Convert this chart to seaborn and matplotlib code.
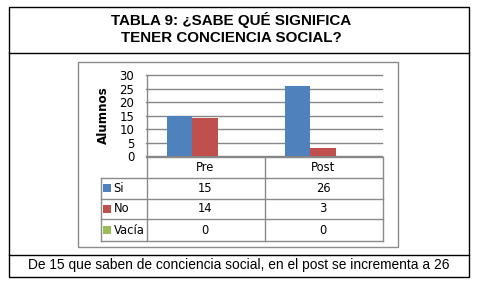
import matplotlib
matplotlib.use("Agg")
import matplotlib.pyplot as plt
from matplotlib.patches import Rectangle
import seaborn as sns
import pandas as pd

# ---- data ----
categories = ["Pre", "Post"]
series = ["Si", "No", "Vacía"]
si_values = [15, 26]
no_values = [14, 3]
vacia_values = [0, 0]
yticks = [0, 5, 10, 15, 20, 25, 30]
title_lines = ["TABLA 9: ¿SABE QUÉ SIGNIFICA", "TENER CONCIENCIA SOCIAL?"]
ylabel = "Alumnos"
footer = "De 15 que saben de conciencia social, en el post se incrementa a 26"

colors = ["#4F81BD", "#C0504D", "#9BBB59"]

values_by_series = [si_values, no_values, vacia_values]
df = pd.DataFrame({
    "cat": [c for s in series for c in categories],
    "serie": [s for s in series for _ in categories],
    "val": [v for vals in values_by_series for v in vals],
})

W, H = 480, 283
fig = plt.figure(figsize=(W / 100, H / 100), dpi=100)

# overlay in pixel coordinates
ax0 = fig.add_axes([0, 0, 1, 1])
ax0.set_xlim(0, W)
ax0.set_ylim(H, 0)
ax0.axis("off")

# layout (pixels)
PL, PR, PT, PB = 146, 382, 75, 156
TL = 100
row_edges = [156, 177, 198, 218, 240]
grid_c = "#868686"
tab_c = "#8a8a8a"

# outer box
ax0.add_patch(Rectangle((8.5, 6.5), 460, 270, fill=False, ec="black", lw=1))
ax0.plot([8.5, 468.5], [52.5, 52.5], color="black", lw=1)
ax0.plot([8.5, 468.5], [254.5, 254.5], color="black", lw=1)
# inner chart frame
ax0.add_patch(Rectangle((77.5, 61.5), 320, 185, fill=False, ec="#8c8c8c", lw=1))

# title
title_font = ["Liberation Sans", "DejaVu Sans"]
ax0.text(231, 20, title_lines[0], ha="center", va="center", fontsize=10.9,
         fontweight="bold", family=title_font)
ax0.text(231, 38, title_lines[1], ha="center", va="center", fontsize=10.9,
         fontweight="bold", family=title_font)
# footer
ax0.text(238.5, 265.5, footer, ha="center", va="center", fontsize=9.9,
         family=title_font)

# y label
ax0.text(103, 115, ylabel, ha="center", va="center", rotation=90,
         fontsize=8.6, fontweight="bold", family="DejaVu Sans")

# table lines
ax0.plot([PL, PR], [PB + 0.5, PB + 0.5], color=tab_c, lw=1)
for y in row_edges[1:]:
    ax0.plot([TL + 0.5, PR + 0.5], [y + 0.5, y + 0.5], color=tab_c, lw=1)
ax0.plot([TL + 0.5, TL + 0.5], [row_edges[1] + 0.5, row_edges[-1] + 0.5], color=tab_c, lw=1)
ax0.plot([PL + 0.5, PL + 0.5], [PT + 0.5, row_edges[-1] + 0.5], color=tab_c, lw=1)
colw = (PR - PL) / len(categories)
for i in range(1, len(categories) + 1):
    x = PL + i * colw + 0.5
    ax0.plot([x, x], [PB + 0.5, row_edges[-1] + 0.5], color=tab_c, lw=1)

# table text
fs_tab = 8.3
for i, c in enumerate(categories):
    cx = PL + (i + 0.5) * colw
    ax0.text(cx, (row_edges[0] + row_edges[1]) / 2 + 1, c, ha="center", va="center",
             fontsize=fs_tab, family="DejaVu Sans")
    for r, vals in enumerate(values_by_series):
        cy = (row_edges[r + 1] + row_edges[r + 2]) / 2 + 1
        ax0.text(cx, cy, str(vals[i]), ha="center", va="center",
                 fontsize=fs_tab, family="DejaVu Sans")
for r, s in enumerate(series):
    cy = (row_edges[r + 1] + row_edges[r + 2]) / 2 + 1
    ax0.add_patch(Rectangle((103, cy - 4.5), 8, 8, color=colors[r], lw=0))
    ax0.text(113.5, cy, s, ha="left", va="center", fontsize=fs_tab, family="DejaVu Sans")

# bar chart axes
ax = fig.add_axes([PL / W, 1 - PB / H, (PR - PL) / W, (PB - PT) / H])
ax.set_facecolor("none")
sns.barplot(data=df, x="cat", y="val", hue="serie", hue_order=series,
            order=categories, palette=colors, width=0.65, saturation=1,
            legend=False, ax=ax)
ax.set_xlim(-0.5, len(categories) - 0.5)
ax.set_ylim(0, 30)
ax.set_yticks(yticks)
ax.set_yticklabels([str(t) for t in yticks], fontsize=8.5, family="DejaVu Sans")
ax.set_xticks([])
ax.set_xlabel("")
ax.set_ylabel("")
ax.tick_params(axis="y", length=0, pad=8.5)
for sp in ax.spines.values():
    sp.set_visible(False)
ax.yaxis.grid(True, color=grid_c, lw=1)
ax.set_axisbelow(True)
for gl in ax.get_ygridlines():
    gl.set_clip_on(False)

fig.savefig("out.png", dpi=100)
